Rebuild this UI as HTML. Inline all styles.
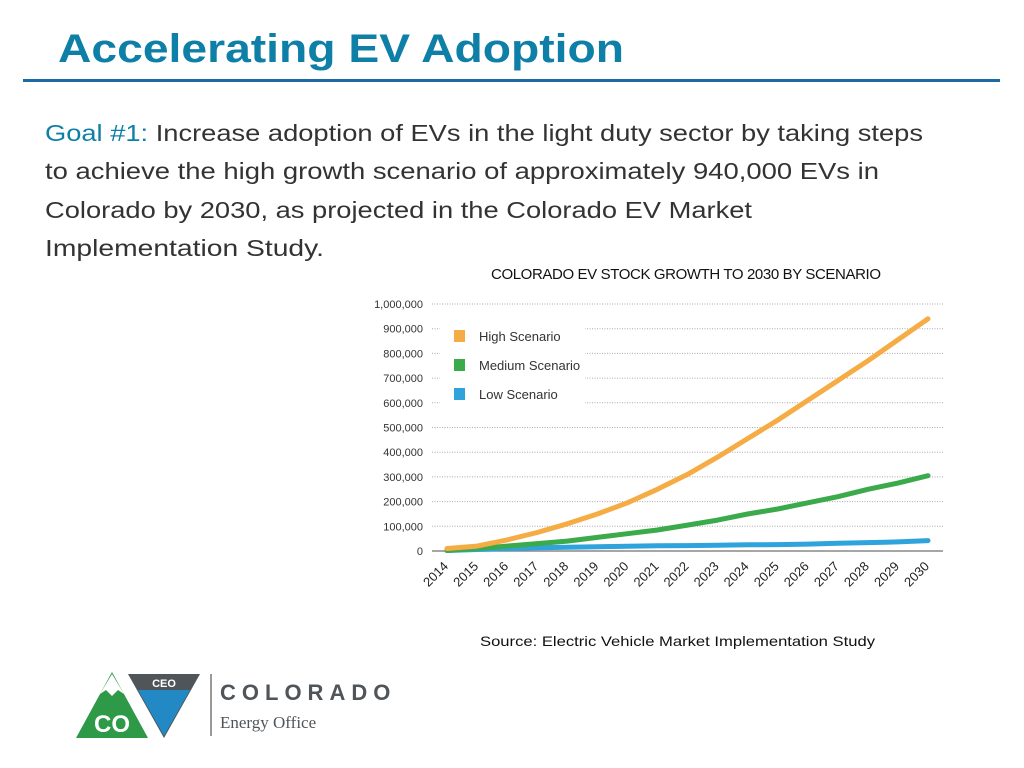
<!DOCTYPE html>
<html><head><meta charset="utf-8"><style>
body{margin:0;width:1024px;height:768px;background:#fff;position:relative;overflow:hidden;font-family:"Liberation Sans",sans-serif}
#rule{position:absolute;left:23px;top:79px;width:977px;height:3px;background:#1b6aa3}
</style></head><body>
<svg width="1024" height="768" style="position:absolute;left:0;top:0" font-family="Liberation Sans, sans-serif">
<text x="58" y="62" font-size="40" font-weight="bold" fill="#0e7fa6" textLength="566" lengthAdjust="spacingAndGlyphs">Accelerating EV Adoption</text>
<g font-size="23" fill="#333">
<text x="45" y="141" textLength="878" lengthAdjust="spacingAndGlyphs"><tspan fill="#0e7fa6">Goal #1:</tspan> Increase adoption of EVs in the light duty sector by taking steps</text>
<text x="45" y="179" textLength="834" lengthAdjust="spacingAndGlyphs">to achieve the high growth scenario of approximately 940,000 EVs in</text>
<text x="45" y="218" textLength="707" lengthAdjust="spacingAndGlyphs">Colorado by 2030, as projected in the Colorado EV Market</text>
<text x="45" y="256" textLength="279" lengthAdjust="spacingAndGlyphs">Implementation Study.</text>
</g>
<text x="480" y="646" font-size="14" fill="#111" textLength="395" lengthAdjust="spacingAndGlyphs">Source: Electric Vehicle Market Implementation Study</text>
</svg>
<div id="rule"></div>
<svg id="chart" width="1024" height="768" style="position:absolute;left:0;top:0"></svg>
<svg width="360" height="90" style="position:absolute;left:60px;top:660px">
<polygon points="16,78 52,12 88,78" fill="#2e9a48"/>
<polygon points="40,34 52,14 64,34 58,30 52,36 46,30" fill="#fff"/>
<text x="52" y="72" font-size="24" font-weight="bold" fill="#fff" text-anchor="middle" font-family="Liberation Sans, sans-serif">CO</text>
<polygon points="68,14 140,14 104,78" fill="#4f5559"/>
<polygon points="78,30 130,30 104,76" fill="#2389c4"/>
<text x="104" y="27" font-size="11" font-weight="bold" fill="#fff" text-anchor="middle" font-family="Liberation Sans, sans-serif">CEO</text>
<rect x="150" y="14" width="2" height="62" fill="#999"/>
<text x="160" y="40" font-size="22" font-weight="bold" fill="#4f5559" letter-spacing="6" font-family="Liberation Sans, sans-serif">COLORADO</text>
<text x="160" y="68" font-size="17" fill="#4f5559" font-family="Liberation Serif, serif">Energy Office</text>
</svg>
<script>
const years=[2014,2015,2016,2017,2018,2019,2020,2021,2022,2023,2024,2025,2026,2027,2028,2029,2030];
const highVals=[10000,20000,45000,75000,110000,150000,195000,250000,310000,380000,455000,530000,610000,690000,770000,855000,940000];
const medVals=[2000,10000,20000,30000,40000,55000,70000,85000,105000,125000,150000,170000,195000,220000,250000,275000,305000];
const lowVals=[2000,6000,10000,13000,15000,17000,19000,21000,22000,23000,25000,26000,28000,31000,34000,37000,42000];
const yTicks=[0,100000,200000,300000,400000,500000,600000,700000,800000,900000,1000000];
const yTickLabels=["0","100,000","200,000","300,000","400,000","500,000","600,000","700,000","800,000","900,000","1,000,000"];
const NS="http://www.w3.org/2000/svg";
const svg=document.getElementById('chart');
const X=y=>447+(y-2014)*(928-447)/16;
const Y=v=>551-v*(551-304)/1000000;
function mk(t,a){const e=document.createElementNS(NS,t);for(const k in a)e.setAttribute(k,a[k]);svg.appendChild(e);return e;}
const FF='"Liberation Sans",sans-serif';
let t=mk('text',{x:686,y:279,'font-size':15,'text-anchor':'middle','font-family':FF,fill:'#111',textLength:390});
t.textContent='COLORADO EV STOCK GROWTH TO 2030 BY SCENARIO';


yTicks.forEach((v,i)=>{
 if(v>0){const g=mk('line',{x1:432,x2:943,y1:Y(v),y2:Y(v),stroke:'#aaa','stroke-dasharray':'1,1.5','stroke-width':1});
 
 }
 const l=mk('text',{x:423,y:Y(v)+4,'font-size':11,'text-anchor':'end','font-family':FF,fill:'#333'});
 l.textContent=yTickLabels[i];
 
 
});
const ax=mk('line',{x1:432,x2:943,y1:Y(0),y2:Y(0),stroke:'#888','stroke-width':1.5});


const lb=mk('rect',{x:440,y:318,width:145,height:92,fill:'#fff'});


years.forEach(y=>{
 const l=mk('text',{x:0,y:0,'font-size':13,'text-anchor':'end','font-family':FF,fill:'#222',transform:`translate(${X(y)+2},${Y(0)+16}) rotate(-45)`});
 l.textContent=y;
 
 
});
const series=[["low",lowVals,'#2ea3dc'],["medium",medVals,'#3aaa4a'],["high",highVals,'#f6ac45']];
series.forEach(s=>{
 const d=s[1].map((v,i)=>(i?'L':'M')+X(years[i]).toFixed(1)+','+Y(v).toFixed(1)).join(' ');
 const p=mk('path',{d:d,fill:'none',stroke:s[2],'stroke-width':5,'stroke-linecap':'round','stroke-linejoin':'round'});
 
 
});
const leg=[["High Scenario",'#f6ac45',336],["Medium Scenario",'#3aaa4a',365],["Low Scenario",'#2ea3dc',394]];
leg.forEach(e=>{
 const r=mk('rect',{x:454,y:e[2]-6,width:11,height:12,fill:e[1]});
 
 
 const l=mk('text',{x:479,y:e[2]+5,'font-size':13,'font-family':FF,fill:'#333'});
 l.textContent=e[0];
 
 
});
</script>
</body></html>
